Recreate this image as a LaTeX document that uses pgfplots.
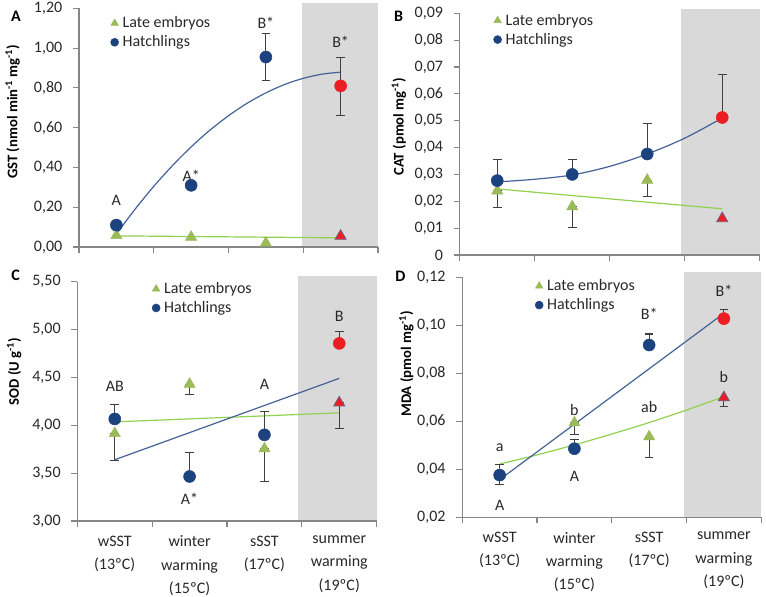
\documentclass[border=0pt]{standalone}
\usepackage{fontspec}
\setmainfont{Carlito}
\usepackage{pgfplots}
\pgfplotsset{compat=1.18}
\definecolor{navy}{RGB}{28,66,128}
\definecolor{embgreen}{RGB}{155,187,89}
\definecolor{redc}{RGB}{235,30,35}
\definecolor{trioutline}{RGB}{110,95,130}
\definecolor{navyline}{RGB}{68,98,152}
\definecolor{greenline}{RGB}{146,208,80}
\definecolor{bandgray}{RGB}{217,217,217}
\definecolor{axisgray}{RGB}{134,134,134}
\definecolor{errc}{RGB}{64,64,64}
\definecolor{txt}{RGB}{40,40,40}
\tikzset{lbl/.style={font=\fontsize{12}{14}\selectfont, text=txt}}
\pgfplotsset{
  panel/.style={
    scale only axis, axis lines*=left, axis on top, clip=false,
    scaled y ticks=false, scaled x ticks=false,
    xmin=0, xmax=4, xtick={0,1,2,3,4}, x tick label as interval,
    axis line style={draw=axisgray, line width=0.8pt},
    tick align=outside, major tick length=4.5pt,
    every tick/.style={draw=axisgray, line width=0.8pt},
    tick label style={font=\fontsize{12}{14}\selectfont, color=txt},
    yticklabel style={xshift=-4.5pt},
    xticklabel style={align=center, font=\fontsize{12}{17.6}\selectfont, yshift=-3pt},
    ylabel style={anchor=center, font=\bfseries\fontsize{11}{13}\selectfont, color=black},
    legend style={draw=none, fill=none, inner sep=0pt, row sep=2.5pt,
      font=\fontsize{12}{14}\selectfont, text=txt, nodes={inner sep=1pt}, cells={anchor=west},
      /tikz/every odd column/.append style={column sep=2pt}},
    legend cell align=left,
    legend image code/.code={\draw[##1] plot coordinates {(0pt,0pt)};},
  },
  hatch/.style={only marks, mark=*, mark size=4.5pt, color=navy, forget plot},
  emb/.style={only marks, mark=triangle*, mark size=4.8pt, color=embgreen, forget plot},
  redcirc/.style={only marks, mark=*, mark size=4.5pt, color=redc, forget plot},
  redtri/.style={only marks, mark=triangle*, mark size=4.8pt, mark options={fill=redc, draw=trioutline, line width=0.6pt}, forget plot},
  errs/.style={draw=none, mark=none, forget plot, error bars/.cd, y dir=both, y explicit,
    error bar style={draw=errc, line width=0.8pt, solid},
    error mark options={rotate=90, mark size=3.2pt, draw=errc, line width=0.8pt}},
  tline/.style={line width=0.9pt, no marks, smooth, forget plot},
}
\newcommand{\legendimgs}{%
  \addlegendimage{only marks, mark=triangle*, mark size=3.2pt, color=embgreen}
  \addlegendentry{Late embryos}
  \addlegendimage{only marks, mark=*, mark size=3pt, color=navy}
  \addlegendentry{Hatchlings}}
\begin{document}
\begin{tikzpicture}
\useasboundingbox (0,0) rectangle (574.5pt,447pt);
% ---------------- A: GST
\begin{axis}[panel, at={(59.25pt,261.75pt)}, anchor=south west, width=224.25pt, height=179pt,
  ymin=0, ymax=1.2, ytick={0,0.2,0.4,0.6,0.8,1.0,1.2},
  yticklabels={{0,00},{0,20},{0,40},{0,60},{0,80},{1,00},{1,20}},
  xticklabels={,,,,},
  ylabel={GST (nmol min\textsuperscript{-1} mg\textsuperscript{-1})},
  ylabel style={at={(axis description cs:-0.222,0.567)}},
  legend style={at={(0.105,0.972)}, anchor=north west}]
\fill[bandgray] (axis cs:2.98,0) rectangle ([yshift=4pt]axis cs:4,1.2);
\addplot[tline, greenline] coordinates {(0.5,0.056) (3.5,0.046)};
\addplot[tline, navyline] coordinates {(0.5,0.065) (0.75,0.190) (1.0,0.305) (1.25,0.409) (1.5,0.503) (1.75,0.587) (2.0,0.660) (2.25,0.723) (2.5,0.775) (2.75,0.817) (3.0,0.848) (3.25,0.869) (3.5,0.879)};
\addplot[errs] table[x=x, y=y, y error plus=ep, y error minus=em] {
x y ep em
2.5 0.955 0.120 0.120
3.5 0.810 0.145 0.150
};
\addplot[emb] coordinates {(0.5,0.058) (1.5,0.050) (2.5,0.020)};
\addplot[hatch] coordinates {(0.5,0.110) (1.5,0.310) (2.5,0.955)};
\addplot[redtri] coordinates {(3.5,0.055)};
\addplot[redcirc] coordinates {(3.5,0.810)};
\node[lbl] at (axis cs:0.5,0.235) {A};
\node[lbl] at (axis cs:1.5,0.36) {A*};
\node[lbl] at (axis cs:2.5,1.125) {B*};
\node[lbl] at (axis cs:3.5,1.03) {B*};
\legendimgs
\end{axis}
% ---------------- B: CAT
\begin{axis}[panel, at={(344.8pt,255.75pt)}, anchor=south west, width=225pt, height=181.3pt,
  ymin=0, ymax=0.09, ytick={0,0.01,0.02,0.03,0.04,0.05,0.06,0.07,0.08,0.09},
  yticklabels={0,{0,01},{0,02},{0,03},{0,04},{0,05},{0,06},{0,07},{0,08},{0,09}},
  xticklabels={,,,,},
  ylabel={CAT (pmol mg\textsuperscript{-1})},
  ylabel style={at={(axis description cs:-0.203,0.531)}},
  legend style={at={(0.112,1.004)}, anchor=north west}]
\fill[bandgray] (axis cs:2.95,0) rectangle ([yshift=3pt]axis cs:4,0.09);
\addplot[tline, greenline] coordinates {(0.5,0.0246) (3.5,0.0172)};
\addplot[tline, navyline] coordinates {(0.5,0.0272) (1.0,0.0282) (1.5,0.0298) (2.0,0.0330) (2.5,0.0376) (3.0,0.0435) (3.5,0.0510)};
\addplot[errs] table[x=x, y=y, y error plus=ep, y error minus=em] {
x y ep em
0.5 0.0277 0.0079 0
1.5 0.0300 0.0056 0
2.5 0.0376 0.0114 0
3.5 0.0512 0.0159 0
0.5 0.0239 0 0.0062
1.5 0.0180 0 0.0078
2.5 0.0279 0 0.0062
};
\addplot[emb] coordinates {(0.5,0.0239) (1.5,0.0180) (2.5,0.0279)};
\addplot[hatch] coordinates {(0.5,0.0277) (1.5,0.0300) (2.5,0.0376)};
\addplot[redtri] coordinates {(3.5,0.0136)};
\addplot[redcirc] coordinates {(3.5,0.0512)};
\legendimgs
\end{axis}
% ---------------- C: SOD
\begin{axis}[panel, at={(58pt,56.25pt)}, anchor=south west, width=224.5pt, height=179.5pt,
  ymin=3, ymax=5.5, ytick={3,3.5,4,4.5,5,5.5},
  yticklabels={{3,00},{3,50},{4,00},{4,50},{5,00},{5,50}},
  xticklabels={{wSST\\(13ºC)},{winter\\warming\\(15ºC)},{sSST\\(17ºC)},{summer\\warming\\(19ºC)}},
  ylabel={SOD (U g\textsuperscript{-1})},
  ylabel style={at={(axis description cs:-0.211,0.624)}},
  legend style={at={(0.249,1.004)}, anchor=north west}]
\fill[bandgray] (axis cs:2.955,3) rectangle ([yshift=4pt]axis cs:4,5.5);
\addplot[tline, greenline] coordinates {(0.5,4.035) (3.5,4.130)};
\addplot[tline, navyline] coordinates {(0.5,3.640) (3.5,4.490)};
\addplot[errs] table[x=x, y=y, y error plus=ep, y error minus=em] {
x y ep em
0.5 4.066 0.155 0
1.5 3.465 0.255 0
2.5 3.900 0.245 0
3.5 4.855 0.120 0
0.5 3.915 0 0.285
1.5 4.430 0 0.110
2.5 3.755 0 0.345
3.5 4.235 0 0.270
};
\addplot[emb] coordinates {(0.5,3.915) (1.5,4.430) (2.5,3.755)};
\addplot[hatch] coordinates {(0.5,4.066) (1.5,3.465) (2.5,3.900)};
\addplot[redtri] coordinates {(3.5,4.235)};
\addplot[redcirc] coordinates {(3.5,4.855)};
\node[lbl] at (axis cs:0.5,4.41) {AB};
\node[lbl] at (axis cs:1.5,3.23) {A*};
\node[lbl] at (axis cs:2.5,4.43) {A};
\node[lbl] at (axis cs:3.5,5.14) {B};
\legendimgs
\end{axis}
% ---------------- D: MDA
\begin{axis}[panel, at={(346.7pt,59pt)}, anchor=south west, width=224.25pt, height=180pt,
  ymin=0.02, ymax=0.12, ytick={0.02,0.04,0.06,0.08,0.10,0.12},
  yticklabels={{0,02},{0,04},{0,06},{0,08},{0,10},{0,12}},
  xticklabels={{wSST\\(13ºC)},{winter\\warming\\(15ºC)},{sSST\\(17ºC)},{summer\\warming\\(19ºC)}},
  ylabel={MDA (pmol mg\textsuperscript{-1})},
  ylabel style={at={(axis description cs:-0.187,0.639)}},
  legend style={at={(0.243,0.998)}, anchor=north west}]
\fill[bandgray] (axis cs:2.97,0.02) rectangle ([yshift=4pt]axis cs:4,0.12);
\addplot[tline, greenline] coordinates {(0.5,0.0422) (1.0,0.0460) (1.5,0.0502) (2.0,0.0547) (2.5,0.0595) (3.0,0.0647) (3.5,0.0703)};
\addplot[tline, navyline] coordinates {(0.5,0.0357) (3.5,0.1050)};
\addplot[errs] table[x=x, y=y, y error plus=ep, y error minus=em] {
x y ep em
0.5 0.0376 0.0046 0.0041
1.5 0.0486 0.0040 0
2.5 0.0918 0.0046 0
3.5 0.1028 0.0039 0
1.5 0.0594 0 0.0047
2.5 0.0536 0 0.0087
3.5 0.0699 0 0.0038
};
\addplot[emb] coordinates {(0.5,0.0376) (1.5,0.0594) (2.5,0.0536)};
\addplot[hatch] coordinates {(0.5,0.0376) (1.5,0.0486) (2.5,0.0918)};
\addplot[redtri] coordinates {(3.5,0.0699)};
\addplot[redcirc] coordinates {(3.5,0.1028)};
\node[lbl] at (axis cs:0.5,0.0492) {a};
\node[lbl] at (axis cs:0.5,0.0251) {A};
\node[lbl] at (axis cs:1.5,0.0647) {b};
\node[lbl] at (axis cs:1.5,0.0372) {A};
\node[lbl] at (axis cs:2.5,0.0661) {ab};
\node[lbl] at (axis cs:2.5,0.1050) {B*};
\node[lbl] at (axis cs:3.5,0.1144) {B*};
\node[lbl] at (axis cs:3.5,0.0786) {b};
\legendimgs
\end{axis}
% panel letters
\node[font=\bfseries\fontsize{12}{14}\selectfont] at (12pt,435pt) {A};
\node[font=\bfseries\fontsize{12}{14}\selectfont] at (298.9pt,435pt) {B};
\node[font=\bfseries\fontsize{12}{14}\selectfont] at (11.8pt,240.75pt) {C};
\node[font=\bfseries\fontsize{12}{14}\selectfont] at (300.4pt,240pt) {D};
\end{tikzpicture}
\end{document}
